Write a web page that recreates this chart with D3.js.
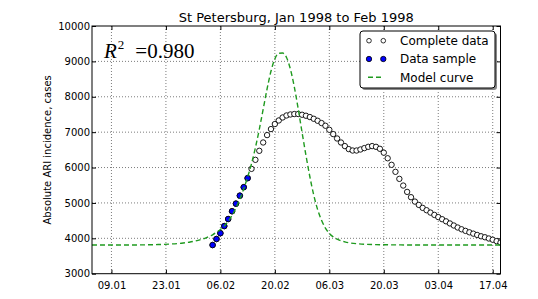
<!DOCTYPE html>
<html>
<head>
<meta charset="utf-8">
<script src="https://cdn.jsdelivr.net/npm/d3@7"></script>
<style>
  body { margin: 0; background: #fff; }
  text { font-family: "DejaVu Sans", sans-serif; }
</style>
</head>
<body>
<div id="chart"></div>
<script>
// x ticks every two weeks
const tickDates = ["1998-01-09", "1998-01-23", "1998-02-06", "1998-02-20",
  "1998-03-06", "1998-03-20", "1998-04-03", "1998-04-17"];
const yTicks = [3000, 4000, 5000, 6000, 7000, 8000, 9000, 10000];

// daily incidence, starting 04.02.1998
const completeStart = "1998-02-04";
const completeValues = [
  3810, 3980, 4145, 4345, 4545, 4765, 4980, 5205, 5445, 5700,
  5963, 6218, 6473, 6708, 6917, 7087, 7229, 7330, 7415, 7472,
  7500, 7512, 7512, 7492, 7464,
  7427, 7378, 7322, 7257, 7181, 7067, 6945, 6821, 6708, 6606,
  6521, 6481, 6481, 6510, 6549, 6586, 6606, 6586, 6530, 6420,
  6262, 6077, 5879, 5680, 5491, 5312, 5162, 5038, 4944, 4860, 4794,
  4727, 4661, 4600, 4540, 4480, 4420, 4362, 4305, 4255, 4210,
  4170, 4132, 4095, 4058, 4030, 3995, 3960, 3920, 3880
];
// the sample used for fitting = first 10 days
const sampleCount = 10;

const modelDates = [
  "1998-01-04", "1998-01-12", "1998-01-17", "1998-01-21", "1998-01-24",
  "1998-01-27", "1998-01-29", "1998-01-31", "1998-02-02", "1998-02-03",
  "1998-02-04", "1998-02-05", "1998-02-06", "1998-02-07", "1998-02-08",
  "1998-02-09", "1998-02-10", "1998-02-11", "1998-02-12", "1998-02-13",
  "1998-02-14", "1998-02-15", "1998-02-16", "1998-02-17", "1998-02-18",
  "1998-02-19", "1998-02-20", "1998-02-21", "1998-02-22", "1998-02-23",
  "1998-02-24", "1998-02-25", "1998-02-26", "1998-02-27", "1998-02-28",
  "1998-03-01", "1998-03-02", "1998-03-03", "1998-03-04", "1998-03-05",
  "1998-03-06", "1998-03-07", "1998-03-08", "1998-03-10", "1998-03-13",
  "1998-03-18", "1998-03-28", "1998-04-19"
];
const modelValues = [
  3810, 3811, 3815, 3824, 3838,
  3862, 3890, 3935, 4000, 4045,
  4100, 4170, 4250, 4350, 4480,
  4650, 4860, 5110, 5400, 5730,
  6110, 6560, 7080, 7650, 8220,
  8720, 9070, 9230, 9235, 9110,
  8780, 8280, 7660, 6990, 6340,
  5740, 5220, 4810, 4510, 4290,
  4140, 4040, 3975, 3900, 3848,
  3822, 3812, 3810
];

const width = 538, height = 299;
const mLeft = 92, mRight = 500.5, mTop = 26, mBottom = 273.7;
const parse = d3.utcParse("%Y-%m-%d");

const x = d3.scaleUtc()
  .domain([parse("1998-01-04"), parse("1998-04-19")])
  .range([mLeft, mRight]);
const y = d3.scaleLinear().domain([3000, 10000]).range([mBottom, mTop]);

const t0 = parse(completeStart);
const complete = completeValues.map((v, i) => ({date: d3.utcDay.offset(t0, i), value: v}));
const sample = complete.slice(0, sampleCount);
const model = modelDates.map((d, i) => ({date: parse(d), value: modelValues[i]}));

const svg = d3.select("#chart").append("svg")
  .attr("width", width).attr("height", height);

svg.append("clipPath").attr("id", "clip")
  .append("rect").attr("x", mLeft).attr("y", mTop)
  .attr("width", mRight - mLeft).attr("height", mBottom - mTop);

// grid
const grid = svg.append("g").attr("stroke", "#444").attr("stroke-width", 0.7)
  .attr("stroke-dasharray", "1,2");
grid.selectAll(".gx").data(tickDates.map(parse)).enter().append("line")
  .attr("x1", d => x(d)).attr("x2", d => x(d))
  .attr("y1", mTop).attr("y2", mBottom);
grid.selectAll(".gy").data(yTicks.slice(1, -1)).enter().append("line")
  .attr("x1", mLeft).attr("x2", mRight)
  .attr("y1", d => y(d)).attr("y2", d => y(d));

// axes (ticks inside, mirrored top / right)
const fmt = d3.utcFormat("%d.%m");
const xb = svg.append("g").attr("transform", `translate(0,${mBottom})`)
  .call(d3.axisBottom(x).tickValues(tickDates.map(parse)).tickFormat(fmt)
    .tickSizeInner(-4).tickSizeOuter(0).tickPadding(8));
const xt = svg.append("g").attr("transform", `translate(0,${mTop})`)
  .call(d3.axisTop(x).tickValues(tickDates.map(parse)).tickFormat("")
    .tickSizeInner(-4).tickSizeOuter(0));
const yl = svg.append("g").attr("transform", `translate(${mLeft},0)`)
  .call(d3.axisLeft(y).tickValues(yTicks).tickFormat(d3.format("d"))
    .tickSizeInner(-4).tickSizeOuter(0).tickPadding(2));
const yr = svg.append("g").attr("transform", `translate(${mRight},0)`)
  .call(d3.axisRight(y).tickValues(yTicks).tickFormat("")
    .tickSizeInner(-4).tickSizeOuter(0));
[xb, xt, yl, yr].forEach(g => {
  g.select(".domain").remove();
  g.selectAll("text").attr("font-size", 10).attr("fill", "#000")
    .attr("font-family", "DejaVu Sans");
  g.selectAll("line").attr("stroke", "#000");
});

const plot = svg.append("g").attr("clip-path", "url(#clip)");

plot.selectAll(".complete").data(complete).enter().append("circle")
  .attr("cx", d => x(d.date)).attr("cy", d => y(d.value)).attr("r", 2.7)
  .attr("fill", "#fff").attr("stroke", "#000").attr("stroke-width", 0.9);

plot.selectAll(".sample").data(sample).enter().append("circle")
  .attr("cx", d => x(d.date)).attr("cy", d => y(d.value)).attr("r", 2.8)
  .attr("fill", "#0000ff").attr("stroke", "#000").attr("stroke-width", 0.8);

const line = d3.line().curve(d3.curveMonotoneX)
  .x(d => x(d.date)).y(d => y(d.value));
plot.append("path").datum(model).attr("d", line)
  .attr("fill", "none").attr("stroke", "#1f9a1f").attr("stroke-width", 1.4)
  .attr("stroke-dasharray", "5,3");

// frame
svg.append("rect").attr("x", mLeft).attr("y", mTop)
  .attr("width", mRight - mLeft).attr("height", mBottom - mTop)
  .attr("fill", "none").attr("stroke", "#000").attr("stroke-width", 1);

// title and labels
svg.append("text").attr("x", (mLeft + mRight) / 2).attr("y", 21.5)
  .attr("text-anchor", "middle").attr("font-size", 13)
  .text("St Petersburg, Jan 1998 to Feb 1998");
svg.append("text")
  .attr("transform", `translate(51,${(mTop + mBottom) / 2}) rotate(-90)`)
  .attr("text-anchor", "middle").attr("font-size", 10)
  .text("Absolute ARI incidence, cases");

const r2 = svg.append("text").attr("x", 104).attr("y", 58)
  .style("font-family", "'Liberation Serif', serif").attr("font-size", 21);
r2.append("tspan").attr("font-style", "italic").text("R");
r2.append("tspan").attr("font-size", 13).attr("dy", -9).attr("dx", 1).text("2");
r2.append("tspan").attr("dy", 9).attr("dx", 11).text("=0.980");

// legend
const lg = svg.append("g").attr("transform", "translate(360,31)");
lg.append("rect").attr("x", 2).attr("y", 2).attr("width", 135).attr("height", 57)
  .attr("rx", 3).attr("fill", "#888");
lg.append("rect").attr("width", 135).attr("height", 57).attr("rx", 3)
  .attr("fill", "#fff").attr("stroke", "#000").attr("stroke-width", 1);
const items = [
  {label: "Complete data", kind: "complete"},
  {label: "Data sample", kind: "sample"},
  {label: "Model curve", kind: "model"}
];
const row = lg.selectAll(".row").data(items).enter().append("g")
  .attr("transform", (d, i) => `translate(0,${9.7 + i * 18.3})`);
row.each(function(d) {
  const g = d3.select(this);
  if (d.kind === "model") {
    g.append("line").attr("x1", 8).attr("x2", 24).attr("y1", 0).attr("y2", 0)
      .attr("stroke", "#1f9a1f").attr("stroke-width", 1.4)
      .attr("stroke-dasharray", "5,3");
  } else {
    g.selectAll("circle").data([9, 23.3]).enter().append("circle")
      .attr("cx", c => c).attr("cy", 0).attr("r", d.kind === "sample" ? 2.7 : 2.3)
      .attr("fill", d.kind === "sample" ? "#0000ff" : "#fff")
      .attr("stroke", "#000").attr("stroke-width", 0.8);
  }
  g.append("text").attr("x", 40).attr("y", 0).attr("dy", "0.35em")
    .attr("font-size", 12).text(d.label);
});
</script>
</body>
</html>
